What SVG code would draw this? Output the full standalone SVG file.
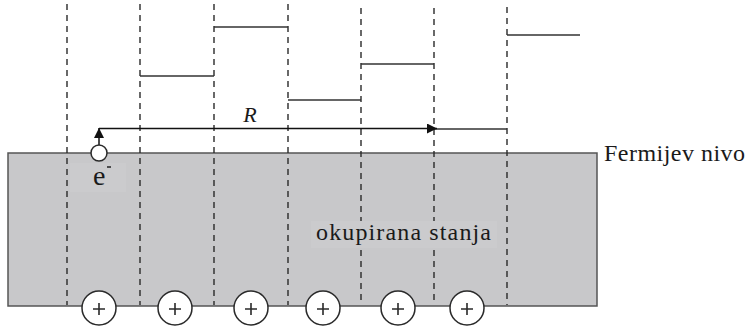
<svg xmlns="http://www.w3.org/2000/svg" width="751" height="329" viewBox="0 0 751 329">
<style>
.dash{stroke:#2a2a2a;stroke-width:1.4;stroke-dasharray:6 5;fill:none}
.lvl{stroke:#333;stroke-width:1.6;fill:none}
.ion{fill:#fff;stroke:#2a2a2a;stroke-width:1.5}
.pl{stroke:#2a2a2a;stroke-width:1.6}
.t{font-family:"Liberation Serif","DejaVu Serif",serif;fill:#1a1a1a}
</style>
<defs>
<marker id="ah" viewBox="0 0 10 10" refX="10" refY="5" markerWidth="10" markerHeight="10" markerUnits="userSpaceOnUse" orient="auto">
<path d="M0,0 L10,5 L0,10 Z" fill="#111"/>
</marker>
</defs>
<g id="metal">
<rect x="8" y="153" width="589" height="153" fill="#c8c8ca" stroke="#555" stroke-width="1.5"/>
<rect x="70" y="163" width="56" height="29" fill="#cbcbcd"/>
</g>
<g id="barriers">
<line class="dash" x1="67" y1="4" x2="67" y2="305"/>
<line class="dash" x1="140" y1="4" x2="140" y2="305"/>
<line class="dash" x1="214" y1="4" x2="214" y2="305"/>
<line class="dash" x1="288" y1="4" x2="288" y2="305"/>
<line class="dash" x1="361" y1="8" x2="361" y2="305"/>
<line class="dash" x1="434" y1="8" x2="434" y2="305"/>
<line class="dash" x1="507" y1="7" x2="507" y2="305"/>
</g>
<g id="levels">
<line class="lvl" x1="140" y1="76" x2="214" y2="76"/>
<line class="lvl" x1="214" y1="27" x2="288" y2="27"/>
<line class="lvl" x1="288" y1="100" x2="361" y2="100"/>
<line class="lvl" x1="361" y1="64" x2="434" y2="64"/>
<line class="lvl" x1="434" y1="129" x2="507" y2="129"/>
<line class="lvl" x1="507" y1="35" x2="580" y2="35"/>
</g>
<g id="label-box">
<rect x="311" y="221" width="186" height="27" fill="#cbcbcd"/>
<text class="t" x="316" y="240" style="font-size:24px" textLength="175" lengthAdjust="spacing">okupirana stanja</text>
</g>
<g id="ions">
<circle class="ion" cx="99" cy="308" r="17"/>
<circle class="ion" cx="175" cy="308" r="17"/>
<circle class="ion" cx="251" cy="308" r="17"/>
<circle class="ion" cx="323" cy="308" r="17"/>
<circle class="ion" cx="398" cy="308" r="17"/>
<circle class="ion" cx="467" cy="308" r="17"/>
<path class="pl" d="M93,309h12M99,303v12M169,309h12M175,303v12M245,309h12M251,303v12M317,309h12M323,303v12M392,309h12M398,303v12M461,309h12M467,303v12"/>
</g>
<g id="connectors">
<line x1="99" y1="145" x2="99" y2="128" stroke="#111" stroke-width="1.5" marker-end="url(#ah)"/>
<line x1="99" y1="128.5" x2="437" y2="128.5" stroke="#111" stroke-width="1.5" marker-end="url(#ah)"/>
</g>
<g id="electron">
<circle cx="99" cy="153" r="8" fill="#fff" stroke="#2a2a2a" stroke-width="1.5"/>
<text class="t" x="93" y="185" style="font-size:28px">e</text>
<line x1="107" y1="167" x2="111" y2="167" stroke="#222" stroke-width="1.5"/>
</g>
<text class="t" x="250" y="122" style="font-size:22px;font-style:italic" text-anchor="middle">R</text>
<text class="t" x="604" y="161" style="font-size:24px" textLength="141" lengthAdjust="spacing">Fermijev nivo</text>
</svg>
